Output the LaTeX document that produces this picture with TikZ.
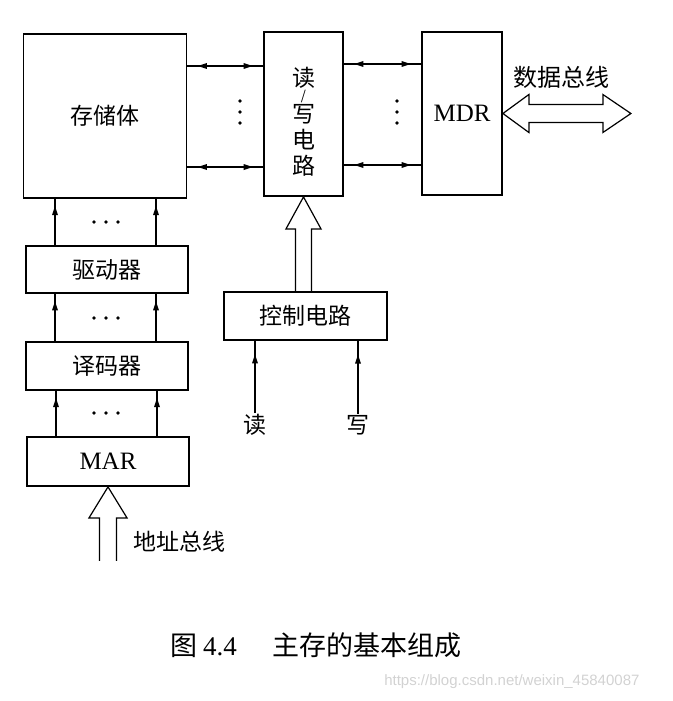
\documentclass[tikz,border=0pt]{standalone}
\usepackage{fontspec}
\setmainfont{Liberation Serif}
\newfontfamily\cjk{Noto Sans CJK SC}
\newfontfamily\wmfont{Liberation Sans}
\usetikzlibrary{arrows.meta, positioning, calc, decorations.markings}

\tikzset{
  blk/.style={draw, line width=1.8pt, inner sep=0pt},
  zh/.style={font=\cjk\fontsize{23}{30}\selectfont},
  en/.style={font=\fontsize{25}{30}\selectfont},
  wire/.style={line width=1.2pt},
  upmark/.style={wire, postaction={decorate},
    decoration={markings, mark=at position #1 with
      {\fill (1pt,0pt) -- (-8pt,3pt) -- (-8pt,-3pt) -- cycle;}}},
  both/.style={wire, postaction={decorate},
    decoration={markings,
      mark=at position 0.15 with {\fill (-1pt,0pt) -- (8pt,3pt) -- (8pt,-3pt) -- cycle;},
      mark=at position 0.85 with {\fill (1pt,0pt) -- (-8pt,3pt) -- (-8pt,-3pt) -- cycle;}}},
  hollow/.style={line width=1.2pt, fill=white, line join=miter},
}

\begin{document}
\begin{tikzpicture}[x=1pt, y=-1pt]
  \useasboundingbox (0,0) rectangle (672,701);

  % memory array, read/write circuit, MDR
  \node[blk, zh, minimum width=163pt, minimum height=164pt] (mem) at (105,116) {存储体};
  \node[blk, minimum width=79pt, minimum height=164pt] (rw) at (303.5,114) {};
  \node[font=\cjk\fontsize{23}{26}\selectfont, align=center, inner sep=0pt] (rwt)
    at ([yshift=-8pt]rw.center)
    {读\\[-12pt]{\fontsize{13}{13}\selectfont /}\\[-4pt]写\\电\\路};
  \node[blk, en, minimum width=80pt, minimum height=163pt] (mdr) at (462,113.5) {MDR};

  % address path
  \node[blk, zh, minimum width=162pt, minimum height=47pt] (drv) at (107,269.5) {驱动器};
  \node[blk, zh, minimum width=162pt, minimum height=48pt] (dec) at (107,366) {译码器};
  \node[blk, en, minimum width=162pt, minimum height=49pt] (mar) at (108,461.5) {MAR};

  % control
  \node[blk, zh, minimum width=163pt, minimum height=48pt] (ctl) at (305.5,316) {控制电路};
  \node[zh, inner sep=1pt] (rd) at (255,425) {读};
  \node[zh, inner sep=1pt] (wr) at (358,425) {写};

  % links array <-> r/w <-> MDR
  \foreach \dy in {50,-51} {
    \draw[both] ([yshift=\dy pt]mem.east) -- ([yshift=\dy pt]mem.east -| rw.west);
    \draw[both] ([yshift=\dy pt]rw.east) -- ([yshift=\dy pt]rw.east -| mdr.west);
  }
  \foreach \y in {101,112,123} {
    \fill (240,\y) circle (1.8pt);
    \fill (397,\y) circle (1.8pt);
  }

  % address lines
  \foreach \lo/\hi in {drv/mem, dec/drv, mar/dec} {
    \draw[upmark=0.82] ([xshift=-52pt]\lo.north) -- ([xshift=-52pt]\lo.north |- \hi.south);
    \draw[upmark=0.82] ([xshift=49pt]\lo.north) -- ([xshift=49pt]\lo.north |- \hi.south);
  }
  \foreach \y in {222,318,413}
    \foreach \x in {94,106,118}
      \fill (\x,\y) circle (1.8pt);

  % read / write inputs
  \draw[upmark=0.8] (rd.north) -- (rd.north |- ctl.south);
  \draw[upmark=0.8] (wr.north) -- (wr.north |- ctl.south);

  % control -> r/w
  \draw[hollow] (rw.south) -- ++(-17.5,32) -- ++(9.5,0) -- ++(0,64)
                (rw.south) -- ++(17.5,32) -- ++(-9.5,0) -- ++(0,64);

  % address bus
  \draw[hollow] (mar.south) -- ++(-19,31) -- ++(10.5,0) -- ++(0,43)
                (mar.south) -- ++(19,31) -- ++(-10.5,0) -- ++(0,43);
  \node[zh, anchor=west] (abus) at (130,542) {地址总线};

  % data bus
  \draw[hollow] (mdr.east) -- ++(26,-19) -- ++(0,10) -- ++(74,0) -- ++(0,-10)
    -- ++(28,19) coordinate (dtip) -- ++(-28,19) -- ++(0,-10) -- ++(-74,0) -- ++(0,10) -- cycle;
  \node[zh, font=\cjk\fontsize{24}{30}\selectfont] (dbus) at (561,77) {数据总线};

  % caption
  \node[anchor=west, inner sep=0pt] (cap) at (170,645)
    {{\cjk\fontsize{27}{30}\selectfont 图}\hspace{6pt}{\fontsize{27}{30}\selectfont 4.4}\hspace{36pt}{\cjk\fontsize{27}{30}\selectfont 主存的基本组成}};
  \node[anchor=east, font=\wmfont\fontsize{15}{15}\selectfont, text=gray!35] (wm) at (643,682)
    {https://blog.csdn.net/weixin\_45840087};
\end{tikzpicture}
\end{document}
